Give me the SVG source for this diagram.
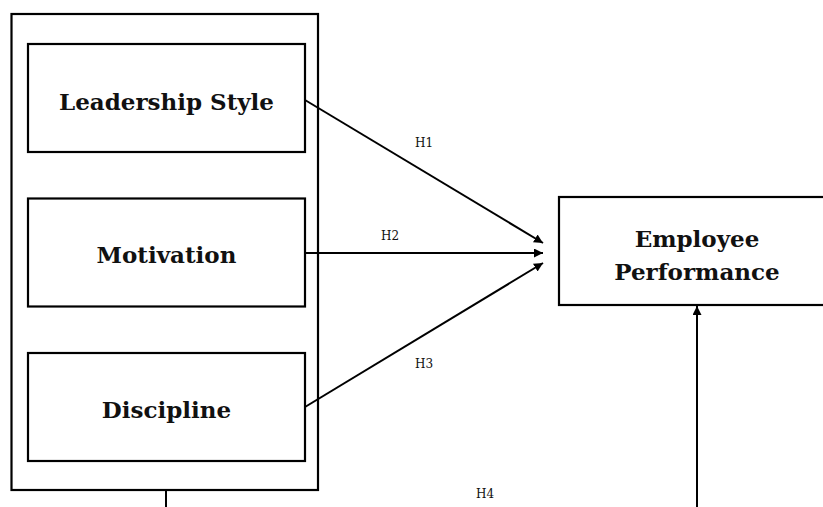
<svg xmlns="http://www.w3.org/2000/svg" width="823" height="507" viewBox="0 0 823 507">
<style>
.box{fill:#fff;stroke:#000;stroke-width:2.2}
.lbl{font-family:"DejaVu Serif","Liberation Serif",serif;font-weight:bold;font-size:23px;text-anchor:middle;fill:#111}
.h{font-family:"DejaVu Serif","Liberation Serif",serif;font-size:12px;text-anchor:middle;fill:#111}
.c{stroke:#000;stroke-width:2;fill:none}
</style>
<defs>
<marker id="ah" viewBox="0 0 10 10" refX="10" refY="5" markerWidth="4.5" markerHeight="4.5" orient="auto" markerUnits="strokeWidth">
<path d="M0,0 L10,5 L0,10 z" fill="#000"/>
</marker>
</defs>
<rect width="823" height="507" fill="#fff"/>
<g id="group">
<rect class="box" x="11.5" y="14" width="306.5" height="476"/>
</g>
<g id="leadership">
<rect class="box" x="28" y="44" width="277" height="108"/>
<text class="lbl" x="166.5" y="110">Leadership Style</text>
</g>
<g id="motivation">
<rect class="box" x="28" y="198.5" width="277" height="108"/>
<text class="lbl" x="166.5" y="263">Motivation</text>
</g>
<g id="discipline">
<rect class="box" x="28" y="353" width="277" height="108"/>
<text class="lbl" x="166.5" y="418">Discipline</text>
</g>
<g id="performance">
<rect class="box" x="559" y="197" width="280" height="108"/>
<text class="lbl" x="697" y="247">Employee</text>
<text class="lbl" x="697" y="280">Performance</text>
</g>
<g id="connectors">
<line class="c" x1="305" y1="100" x2="543" y2="243" marker-end="url(#ah)"/>
<line class="c" x1="305" y1="253" x2="543" y2="253" marker-end="url(#ah)"/>
<line class="c" x1="305" y1="407" x2="543" y2="263" marker-end="url(#ah)"/>
<line class="c" x1="166" y1="490" x2="166" y2="507"/>
<line class="c" x1="697" y1="507" x2="697" y2="306" marker-end="url(#ah)"/>
<text class="h" x="424" y="147">H1</text>
<text class="h" x="390" y="240">H2</text>
<text class="h" x="424" y="368">H3</text>
<text class="h" x="485" y="498">H4</text>
</g>
</svg>
